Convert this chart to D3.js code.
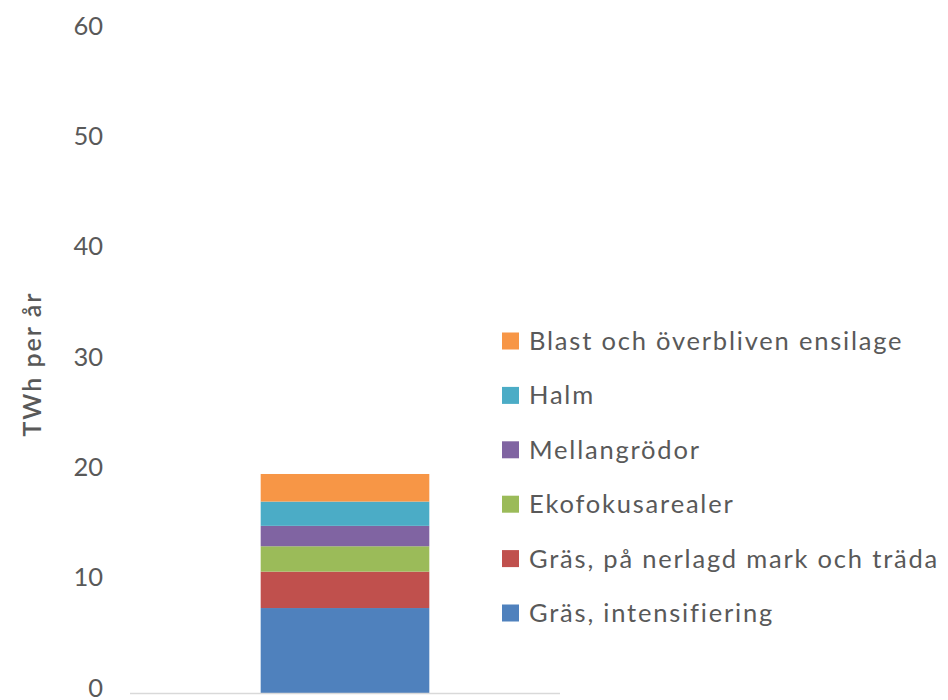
<!DOCTYPE html>
<html>
<head>
<meta charset="utf-8">
<script src="https://cdn.jsdelivr.net/npm/d3@7"></script>
<style>
  html, body { margin: 0; padding: 0; background: #fff; }
  svg text { font-family: Lato, "Open Sans", sans-serif; fill: #595959; }
</style>
</head>
<body>
<svg id="chart" width="948" height="700"></svg>
<script>
// Biomass potential, stacked from bottom to top (TWh per år)
const categories = [""];
const seriesNames = [
  "Gräs, intensifiering",
  "Gräs, på nerlagd mark och träda",
  "Ekofokusarealer",
  "Mellangrödor",
  "Halm",
  "Blast och överbliven ensilage"
];
const seriesValues = [7.7, 3.3, 2.3, 1.85, 2.2, 2.5];
const seriesColors = ["#4F81BD", "#C0504D", "#9BBB59", "#8064A2", "#4BACC6", "#F79646"];
const yTicks = [0, 10, 20, 30, 40, 50, 60];
const yTitle = "TWh per år";

const svg = d3.select("#chart");

const plot = { left: 130, right: 560, top: 31, bottom: 693 };

const y = d3.scaleLinear().domain([0, 60]).range([plot.bottom, plot.top]);
const x = d3.scaleBand().domain(categories).range([plot.left, plot.right])
  .paddingInner(0.6).paddingOuter(0.31);

// Stack the single category
const row = { cat: categories[0] };
seriesNames.forEach((n, i) => row[n] = seriesValues[i]);
const stacked = d3.stack().keys(seriesNames)([row]);

svg.append("g").selectAll("rect")
  .data(stacked)
  .join("rect")
  .attr("x", d => x(d[0].data.cat))
  .attr("width", x.bandwidth())
  .attr("y", d => y(d[0][1]))
  .attr("height", d => y(d[0][0]) - y(d[0][1]))
  .attr("fill", (d, i) => seriesColors[i]);

// Horizontal axis baseline
svg.append("line")
  .attr("x1", plot.left).attr("x2", plot.right)
  .attr("y1", y(0) + 0.5).attr("y2", y(0) + 0.5)
  .attr("stroke", "#d9d9d9").attr("stroke-width", 1.5);

// Value axis labels, no line or tick marks
const yAxis = d3.axisLeft(y).tickValues(yTicks).tickSize(0).tickPadding(0);
const yg = svg.append("g").attr("transform", "translate(103,-5)").call(yAxis);
yg.select(".domain").remove();
yg.selectAll("text")
  .style("font-family", "Lato, 'Open Sans', sans-serif")
  .style("font-size", "25.5px")
  .attr("fill", "#595959");

// Axis title
svg.append("text")
  .attr("transform", `translate(41,${y(30) + 2}) rotate(-90)`)
  .attr("text-anchor", "middle")
  .style("font-size", "25px")
  .style("font-weight", 600)
  .style("letter-spacing", "2px")
  .text(yTitle);

// Legend, listed top to bottom in reverse stacking order
const legendY = d3.scalePoint()
  .domain(seriesNames.slice().reverse())
  .range([341, 613]);

const lg = svg.append("g").selectAll("g")
  .data(seriesNames.slice().reverse())
  .join("g")
  .attr("transform", d => `translate(502,${legendY(d)})`);

lg.append("rect")
  .attr("x", 0).attr("y", -8.5)
  .attr("width", 17).attr("height", 17)
  .attr("fill", d => seriesColors[seriesNames.indexOf(d)]);

lg.append("text")
  .attr("x", 27).attr("y", 0)
  .attr("dy", "0.35em")
  .style("font-size", "25.5px")
  .style("letter-spacing", "1.8px")
  .text(d => d);
</script>
</body>
</html>
